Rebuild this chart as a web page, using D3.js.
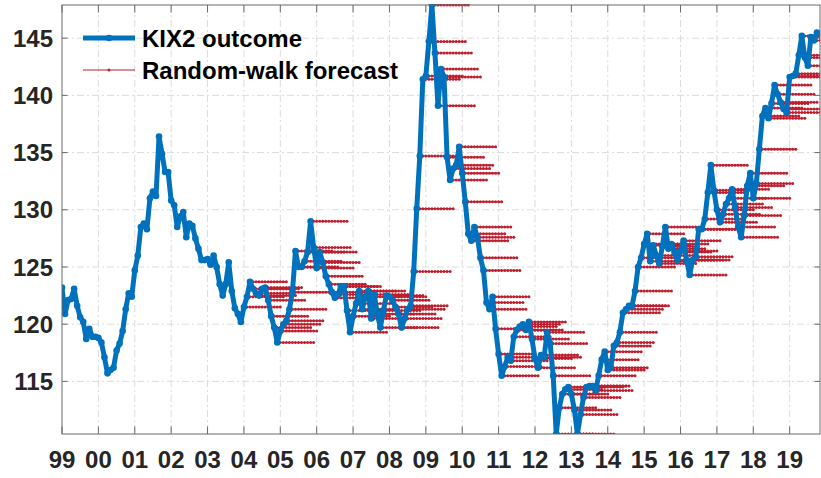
<!DOCTYPE html>
<html>
<head>
<meta charset="utf-8">
<script src="https://cdn.jsdelivr.net/npm/d3@7"></script>
<style>
  body { margin: 0; background: #fff; }
  text { font-family: "Liberation Sans", Arial, Helvetica, sans-serif; }
</style>
</head>
<body>
<script>
// KIX2 monthly outcome, Jan 1999 - Nov 2019
var kix1999 = [123.2, 120.9, 122.1, 122.2, 123.1, 121.6, 120.6, 120.2, 118.7, 119.6, 118.9, 118.9];
var kix2000 = [118.8, 118.4, 117.1, 115.7, 116.0, 116.2, 117.7, 118.3, 119.4, 121.3, 122.7, 122.4];
var kix2001 = [124.7, 126.0, 128.5, 128.8, 128.3, 131.0, 131.6, 131.2, 136.4, 134.9, 133.3, 133.3];
var kix2002 = [130.8, 130.4, 128.5, 129.4, 129.8, 127.6, 128.8, 128.6, 127.5, 126.6, 125.6, 125.6];
var kix2003 = [125.7, 125.2, 126.0, 125.0, 123.5, 122.5, 123.5, 125.4, 122.9, 121.4, 120.9, 120.2];
var kix2004 = [121.5, 122.4, 123.7, 123.1, 122.7, 122.5, 123.1, 123.2, 122.1, 120.7, 119.7, 118.4];
var kix2005 = [119.4, 120.0, 120.3, 121.3, 122.8, 126.4, 125.0, 125.0, 125.5, 126.3, 129.0, 126.7];
var kix2006 = [124.9, 126.3, 125.4, 124.2, 123.5, 122.8, 122.3, 122.6, 123.3, 123.3, 121.2, 119.3];
var kix2007 = [120.7, 121.8, 122.9, 121.3, 122.4, 122.9, 120.5, 122.6, 120.9, 119.7, 121.2, 122.5];
var kix2008 = [122.4, 122.1, 121.5, 120.9, 119.7, 120.5, 121.3, 121.6, 124.6, 130.1, 134.7, 141.4];
var kix2009 = [141.7, 144.7, 147.9, 143.7, 139.1, 142.3, 141.6, 134.6, 132.6, 133.6, 133.9, 135.5];
var kix2010 = [133.2, 130.7, 127.9, 127.3, 128.5, 127.6, 125.8, 124.7, 121.9, 121.3, 122.4, 119.6];
var kix2011 = [117.4, 115.5, 116.3, 117.1, 116.8, 118.9, 119.5, 119.8, 120.0, 119.5, 120.2, 118.7];
var kix2012 = [117.0, 116.2, 117.3, 117.1, 119.3, 118.3, 115.5, 110.4, 112.7, 113.9, 114.3, 114.5];
var kix2013 = [113.9, 112.5, 110.4, 112.1, 113.6, 114.5, 114.6, 114.6, 114.2, 115.5, 116.9, 117.6];
var kix2014 = [116.0, 116.2, 118.1, 118.4, 119.3, 121.0, 121.3, 121.6, 121.6, 122.9, 125.0, 125.8];
var kix2015 = [127.0, 127.9, 125.5, 126.9, 126.0, 125.3, 126.8, 128.5, 126.6, 127.0, 126.3, 125.6];
var kix2016 = [126.4, 127.3, 125.6, 124.3, 125.6, 125.9, 128.3, 128.3, 129.2, 131.5, 133.9, 131.7];
var kix2017 = [130.0, 128.9, 129.6, 130.5, 131.0, 131.8, 130.2, 128.5, 127.6, 129.5, 132.1, 133.2];
var kix2018 = [131.0, 132.3, 135.3, 138.2, 138.9, 138.0, 139.3, 140.9, 140.1, 139.4, 138.8, 138.5];
var kix2019 = [141.6, 141.7, 141.9, 143.5, 145.2, 143.3, 142.6, 145.1, 144.8, 145.5, 145.4];

var startYear = 1999;
var fcFirstOrigin = 2004;   // first forecast origin (January)
var fcHorizon = 12;         // months ahead

var xTickYears = d3.range(1999, 2020);
var xTickLabels = ["99","00","01","02","03","04","05","06","07","08","09",
                   "10","11","12","13","14","15","16","17","18","19"];
var yTicks = [115, 120, 125, 130, 135, 140, 145];

var legendLabels = ["KIX2 outcome", "Random-walk forecast"];

// ------------------------------------------------------------------
var _width = 821, _height = 478,
    _margins = {top: 5, left: 62, right: 1, bottom: 44};

var kix = [].concat(kix1999, kix2000, kix2001, kix2002, kix2003, kix2004, kix2005,
                    kix2006, kix2007, kix2008, kix2009, kix2010, kix2011, kix2012,
                    kix2013, kix2014, kix2015, kix2016, kix2017, kix2018, kix2019);

var outcome = kix.map(function (v, i) { return {t: startYear + i / 12, v: v}; });

// random-walk forecasts: flat at the last observed value
var forecasts = [];
var firstIdx = (fcFirstOrigin - startYear) * 12;
for (var i = firstIdx; i < kix.length - 1; i++) {
    var pts = [];
    for (var h = 1; h <= fcHorizon; h++) {
        pts.push({t: startYear + (i + h) / 12, v: kix[i]});
    }
    forecasts.push(pts);
}

function quadrantWidth() { return _width - _margins.left - _margins.right; }
function quadrantHeight() { return _height - _margins.top - _margins.bottom; }

var _x = d3.scaleLinear()
    .domain([startYear, startYear + (kix.length - 1) / 12])
    .range([0, quadrantWidth()]);
var _y = d3.scaleLinear()
    .domain(d3.extent(kix))
    .range([quadrantHeight(), 0]);

var blue = "#0072BD", red = "#BE1E2D", axisColor = "#6b6b6b", labelColor = "#262626";

var svg = d3.select("body").append("svg")
    .attr("width", _width)
    .attr("height", _height);

svg.append("defs").append("clipPath")
    .attr("id", "body-clip")
    .append("rect")
    .attr("x", 0).attr("y", -1)
    .attr("width", quadrantWidth())
    .attr("height", quadrantHeight() + 1);

var g = svg.append("g")
    .attr("transform", "translate(" + _margins.left + "," + _margins.top + ")");

// grid
var gridG = g.append("g").attr("class", "grid");
gridG.selectAll("line.gx").data(xTickYears.slice(1)).enter().append("line")
    .attr("x1", function (d) { return _x(d); })
    .attr("x2", function (d) { return _x(d); })
    .attr("y1", 0).attr("y2", quadrantHeight());
gridG.selectAll("line.gy").data(yTicks).enter().append("line")
    .attr("y1", function (d) { return _y(d); })
    .attr("y2", function (d) { return _y(d); })
    .attr("x1", 0).attr("x2", quadrantWidth());
gridG.selectAll("line")
    .attr("stroke", "#dcdcdc")
    .attr("stroke-width", 1)
    .attr("stroke-dasharray", "7,3,2,3");

var line = d3.line()
    .x(function (d) { return _x(d.t); })
    .y(function (d) { return _y(d.v); });

var bodyG = g.append("g").attr("clip-path", "url(#body-clip)");

// forecasts
var fcG = bodyG.append("g").attr("class", "forecasts");
forecasts.forEach(function (pts) {
    fcG.append("path")
        .attr("d", line(pts))
        .attr("fill", "none")
        .attr("stroke", red)
        .attr("stroke-width", 1.1);
    fcG.selectAll(null).data(pts).enter().append("circle")
        .attr("cx", function (d) { return _x(d.t); })
        .attr("cy", function (d) { return _y(d.v); })
        .attr("r", 1.5)
        .attr("fill", red);
});

// outcome
bodyG.append("path")
    .attr("d", line(outcome))
    .attr("fill", "none")
    .attr("stroke", blue)
    .attr("stroke-width", 5)
    .attr("stroke-linejoin", "round")
    .attr("stroke-linecap", "round");
bodyG.selectAll("circle.dot").data(outcome).enter().append("circle")
    .attr("class", "dot")
    .attr("cx", function (d) { return _x(d.t); })
    .attr("cy", function (d) { return _y(d.v); })
    .attr("r", 3.3)
    .attr("fill", blue);

// axes box
var axesG = g.append("g").attr("class", "axes");
axesG.append("rect")
    .attr("x", 0).attr("y", 0)
    .attr("width", quadrantWidth())
    .attr("height", quadrantHeight())
    .attr("fill", "none")
    .attr("stroke", axisColor)
    .attr("stroke-width", 1);

// x ticks (bottom and top, inward)
xTickYears.forEach(function (yr, k) {
    var xx = _x(yr);
    axesG.append("line").attr("x1", xx).attr("x2", xx)
        .attr("y1", quadrantHeight()).attr("y2", quadrantHeight() - 7.5);
    axesG.append("line").attr("x1", xx).attr("x2", xx)
        .attr("y1", 0).attr("y2", 7.5);
    axesG.append("text")
        .attr("x", xx).attr("y", quadrantHeight() + 34)
        .attr("text-anchor", "middle")
        .attr("font-size", "24px")
        .attr("font-weight", "bold")
        .attr("fill", labelColor)
        .text(xTickLabels[k]);
});

// y ticks (left and right, inward)
yTicks.forEach(function (v) {
    var yy = _y(v);
    axesG.append("line").attr("x1", 0).attr("x2", 5.5)
        .attr("y1", yy).attr("y2", yy);
    axesG.append("line").attr("x1", quadrantWidth()).attr("x2", quadrantWidth() - 5.5)
        .attr("y1", yy).attr("y2", yy);
    axesG.append("text")
        .attr("x", -9).attr("y", yy)
        .attr("dy", "0.36em")
        .attr("text-anchor", "end")
        .attr("font-size", "24px")
        .attr("font-weight", "bold")
        .attr("fill", labelColor)
        .text(v);
});
axesG.selectAll("line").attr("stroke", axisColor).attr("stroke-width", 1);

// legend
var legG = g.append("g").attr("class", "legend")
    .attr("transform", "translate(21,33)");
legG.append("line").attr("x1", 0).attr("x2", 52).attr("y1", 0).attr("y2", 0)
    .attr("stroke", blue).attr("stroke-width", 5);
legG.append("circle").attr("cx", 26).attr("cy", 0).attr("r", 3.3).attr("fill", blue);
legG.append("line").attr("x1", 0).attr("x2", 52).attr("y1", 32).attr("y2", 32)
    .attr("stroke", red).attr("stroke-width", 1.1);
legG.append("circle").attr("cx", 26).attr("cy", 32).attr("r", 1.5).attr("fill", red);
legG.selectAll("text").data(legendLabels).enter().append("text")
    .attr("x", 59)
    .attr("y", function (d, i) { return i * 32; })
    .attr("dy", "0.36em")
    .attr("font-size", "24px")
    .attr("font-weight", "bold")
    .attr("fill", "#000")
    .text(function (d) { return d; });
</script>
</body>
</html>
